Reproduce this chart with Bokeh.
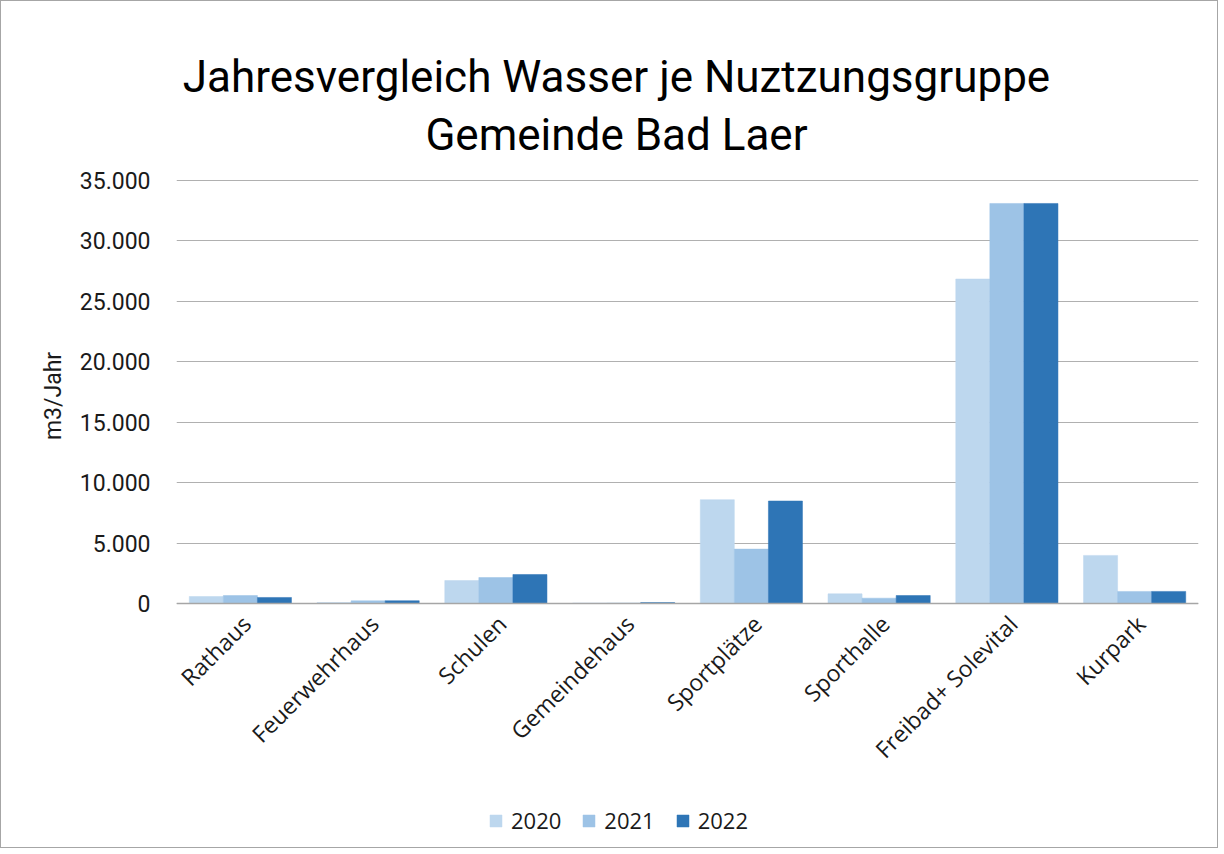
from bokeh.plotting import figure
from bokeh.models import (FactorRange, Range1d, Legend, LegendItem, Label, LabelSet,
                          CustomJSTickFormatter, ColumnDataSource)
from bokeh.core.properties import value
from bokeh.transform import dodge
from bokeh.embed import file_html
from bokeh.resources import INLINE
import math

categories = ["Rathaus", "Feuerwehrhaus", "Schulen", "Gemeindehaus", "Sportplätze",
              "Sporthalle", "Freibad+ Solevital", "Kurpark"]
years = ["2020", "2021", "2022"]
v2020 = [580, 80, 1900, 40, 8590, 800, 26850, 3980]
v2021 = [660, 220, 2150, 40, 4500, 440, 33100, 1000]
v2022 = [500, 230, 2400, 80, 8480, 660, 33100, 1000]
colors = ["#bdd7ee", "#9dc3e6", "#2e75b6"]
title_lines = ["Jahresvergleich Wasser je Nuztzungsgruppe", "Gemeinde Bad Laer"]
y_label = "m3/Jahr"
y_ticks = [0, 5000, 10000, 15000, 20000, 25000, 30000, 35000]

NARROW = "Roboto"
WIDE = "Open Sans"
src = ColumnDataSource(dict(cat=categories, y0=[0] * len(categories),
                            y2020=v2020, y2021=v2021, y2022=v2022))

# One frame covers the whole chart area; the value axis occupies the middle band
ML, MR = 175, 19
AXIS_Y = 602          # canvas y of value 0
GRID_TOP = 179        # canvas y of value 35000
F = 846               # frame height (canvas top to bottom)
ppu = (AXIS_Y - GRID_TOP) / y_ticks[-1]
p = figure(frame_width=1022, frame_height=F, x_range=FactorRange(*categories),
           y_range=Range1d(-(F - AXIS_Y) / ppu, AXIS_Y / ppu),
           output_backend="svg", toolbar_location=None,
           min_border_left=ML, min_border_right=MR, min_border_top=0, min_border_bottom=0)
p.outline_line_color = None
p.styles = {"border": "1px solid #a6a6a6"}

bw = 0.8 / 3
renderers = []
for i, (yr, col) in enumerate(zip(years, colors)):
    r = p.vbar(x=dodge("cat", (i - 1) * bw, range=p.x_range), top="y" + yr, width=bw,
               source=src, fill_color=col, line_color=col, line_width=0.5)
    renderers.append(r)

p.x_range.range_padding = 0
p.x_range.factor_padding = 0

p.xgrid.grid_line_color = None
p.ygrid.grid_line_color = "#b0b0b0"
p.ygrid.grid_line_width = 1.2

p.yaxis.ticker = y_ticks
p.yaxis.bounds = (y_ticks[0], y_ticks[-1])
p.yaxis.formatter = CustomJSTickFormatter(code="return tick.toString().replace(/\\B(?=(\\d{3})+(?!\\d))/g, '.');")
p.yaxis.axis_line_color = None
p.yaxis.major_tick_line_color = None
p.yaxis.minor_tick_line_color = None
p.yaxis.major_label_standoff = 20
p.yaxis.major_label_text_font = NARROW
p.yaxis.major_label_text_font_size = "23px"
p.yaxis.major_label_text_color = "#1a1a1a"
# the axis label is centred on the whole frame; leading no-break spaces lift it to the value band
p.yaxis.axis_label = "\u00a0" * 10 + y_label
p.yaxis.axis_label_text_font = NARROW
p.yaxis.axis_label_text_font_size = "23px"
p.yaxis.axis_label_text_font_style = "normal"
p.yaxis.axis_label_text_color = "#1a1a1a"
p.yaxis.axis_label_standoff = 10

# category axis drawn at value 0; its names are drawn with a LabelSet below it
p.xaxis.fixed_location = 0
p.xaxis.axis_line_color = "#a6a6a6"
p.xaxis.axis_line_width = 1.5
p.xaxis.major_tick_line_color = None
p.xaxis.minor_tick_line_color = None
p.xaxis.major_label_overrides = {c: "" for c in categories}
p.xaxis.major_label_text_font_size = "1px"
p.xaxis.major_label_text_color = None
p.xaxis.major_label_standoff = 0

cat_labels = LabelSet(x="cat", y="y0", text="cat", source=src, angle=math.pi / 4,
                      text_align="right", text_baseline="middle", x_offset=6, y_offset=-16,
                      text_font=value(WIDE), text_font_size="23px", text_color="#1a1a1a")
p.add_layout(cat_labels)

legend = Legend(items=[LegendItem(label=yr, renderers=[r]) for yr, r in zip(years, renderers)],
                orientation="horizontal", location=(312, F - 834),
                label_text_font=WIDE, label_text_font_size="22px", label_text_color="#1a1a1a",
                glyph_width=15, glyph_height=15, spacing=20, label_standoff=8,
                border_line_color=None, background_fill_alpha=0, padding=0, margin=0)
p.add_layout(legend, "center")

for t, base in zip(title_lines, [75, 133]):
    p.add_layout(Label(x=615 - ML, y=F - base, x_units="screen", y_units="screen", text=t,
                       text_font=NARROW, text_font_size="44px", text_color="#000000",
                       text_align="center", text_baseline="alphabetic"))

open("out.html", "w").write(file_html(p, INLINE))
